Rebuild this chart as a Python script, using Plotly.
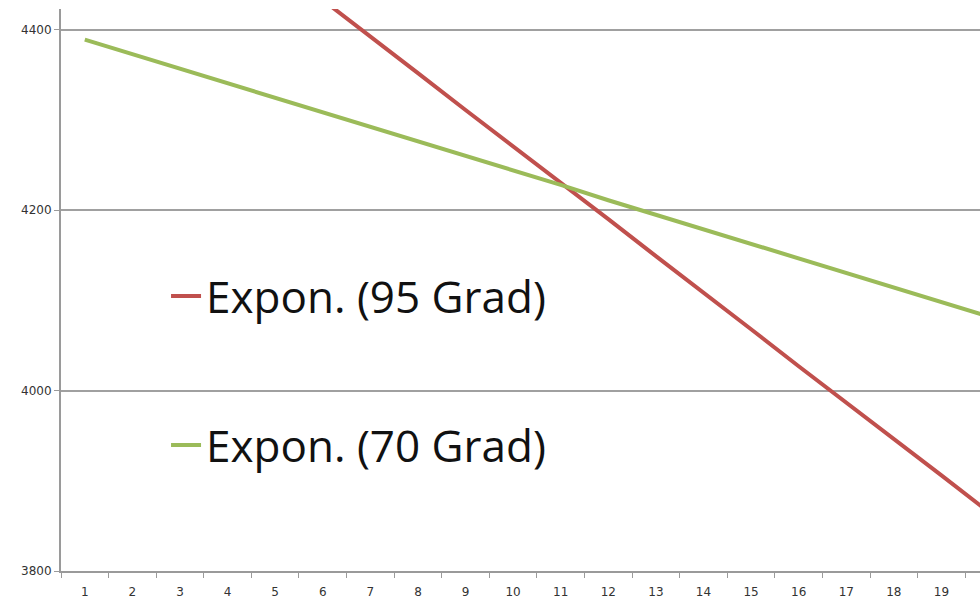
import plotly.graph_objects as go

categories = list(range(1, 21))
tick_labels = [str(c) for c in categories]
red_95 = [4636, 4595, 4555, 4514, 4474, 4433, 4393, 4352, 4311, 4271,
          4230, 4190, 4149, 4109, 4068, 4027, 3987, 3946, 3906, 3865]
green_70 = [4389, 4373, 4357, 4341, 4324, 4308, 4292, 4276, 4260, 4244,
            4228, 4211, 4195, 4179, 4163, 4147, 4131, 4114, 4098, 4082]

fig = go.Figure()
fig.add_trace(go.Scatter(x=categories, y=red_95, mode="lines", name="Expon. (95 Grad)",
                         line=dict(color="#c0504d", width=4), legendgroup="a"))
fig.add_trace(go.Scatter(x=categories, y=green_70, mode="lines", name="Expon. (70 Grad)",
                         line=dict(color="#9bbb59", width=4), legendgroup="b"))

fig.update_layout(
    width=980, height=604,
    margin=dict(l=61, r=0, t=9, b=33),
    paper_bgcolor="white", plot_bgcolor="white",
    showlegend=True,
    legend=dict(x=0.1143, y=0.552, xanchor="left", yanchor="top",
                bgcolor="rgba(0,0,0,0)", traceorder="grouped", tracegroupgap=89,
                font=dict(family="Open Sans", size=44, color="#111111"),
                itemwidth=30),
    xaxis=dict(range=[0.5, 19.81], tickmode="array", tickvals=categories, ticktext=tick_labels,
               ticks="", showgrid=False, zeroline=False,
               showline=True, linecolor="#9a9a9a", linewidth=2,
               tickfont=dict(family="DejaVu Sans", size=12, color="#333333"),
               ticklabelstandoff=9,
               minor=dict(ticks="outside", tickmode="array",
                          tickvals=[c - 0.5 for c in categories], ticklen=5,
                          tickcolor="#9a9a9a", tickwidth=1)),
    yaxis=dict(range=[3800, 4423], tickvals=[3800, 4000, 4200, 4400],
               ticks="outside", ticklen=5, tickcolor="#9a9a9a",
               showgrid=True, gridcolor="#a0a0a0", gridwidth=1.5, zeroline=False,
               showline=True, linecolor="#9a9a9a", linewidth=2,
               tickfont=dict(family="DejaVu Sans", size=12, color="#333333")),
)

fig.write_html("out.html", config={"displayModeBar": False},
               post_script="document.body.style.margin='0';document.body.style.overflow='hidden';")
